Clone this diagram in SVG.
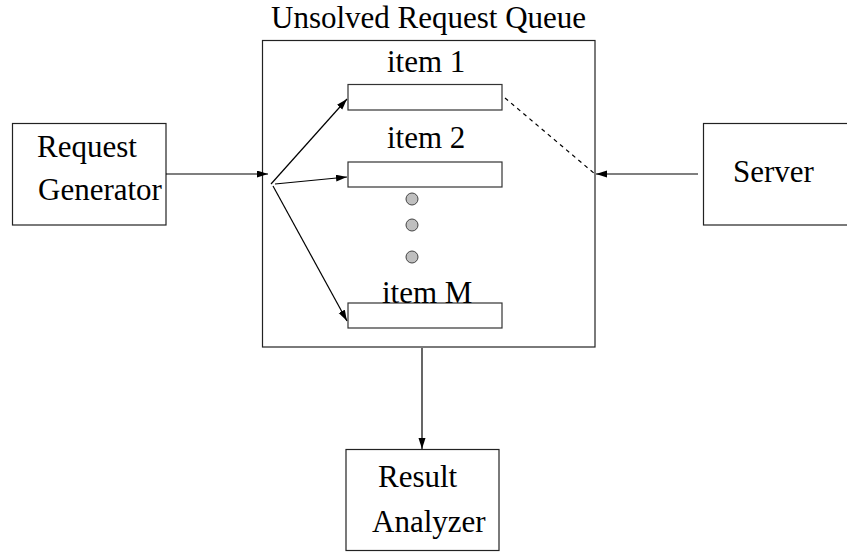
<svg xmlns="http://www.w3.org/2000/svg" width="847" height="552" viewBox="0 0 847 552">
<style>
.box{fill:none;stroke:#222;stroke-width:1.2}
.bar{fill:#fff;stroke:#333;stroke-width:1.2}
.t{font-family:"Liberation Serif","Times New Roman",serif;font-size:31px;fill:#000}
.c{stroke:#000;stroke-width:1.2;fill:none}
.dot{fill:#bfbfbf;stroke:#444;stroke-width:1}
</style>
<defs>
<marker id="ah" markerUnits="userSpaceOnUse" markerWidth="11" markerHeight="8" refX="11" refY="3.5" orient="auto">
<path d="M0,0 L11,3.5 L0,7 z" fill="#000"/>
</marker>
</defs>
<rect width="847" height="552" fill="#fff"/>
<g id="queue">
<rect class="box" x="262.5" y="40.5" width="332.5" height="306.5"/>
<text class="t" x="271" y="28">Unsolved Request Queue</text>
</g>
<g id="item1">
<rect class="bar" x="348" y="84.5" width="154" height="25.5"/>
<text class="t" x="387" y="72">item 1</text>
</g>
<g id="item2">
<rect class="bar" x="348" y="162" width="154" height="25"/>
<text class="t" x="387" y="148">item 2</text>
</g>
<g id="dots">
<circle class="dot" cx="412" cy="199" r="6"/>
<circle class="dot" cx="412" cy="225" r="6"/>
<circle class="dot" cx="412" cy="257" r="6"/>
</g>
<g id="itemM">
<rect class="bar" x="348" y="303" width="154" height="25"/>
<text class="t" x="382" y="303">item M</text>
</g>
<g id="generator">
<rect class="box" x="12.5" y="123.5" width="153.5" height="101.5"/>
<text class="t" x="37" y="157">Request</text>
<text class="t" x="38" y="200">Generator</text>
</g>
<g id="server">
<rect class="box" x="703.5" y="123.5" width="145" height="101.5"/>
<text class="t" x="733" y="182">Server</text>
</g>
<g id="analyzer">
<rect class="box" x="346" y="449.5" width="153" height="101"/>
<text class="t" x="378" y="487">Result</text>
<text class="t" x="372" y="532">Analyzer</text>
</g>
<g id="connectors">
<line class="c" x1="166" y1="174" x2="268" y2="174" marker-end="url(#ah)"/>
<line class="c" x1="698" y1="174" x2="596" y2="174" marker-end="url(#ah)"/>
<line class="c" x1="271" y1="184" x2="347" y2="99" marker-end="url(#ah)"/>
<line class="c" x1="275" y1="184" x2="347" y2="177" marker-end="url(#ah)"/>
<line class="c" x1="273" y1="186" x2="347" y2="321" marker-end="url(#ah)"/>
<line class="c" x1="505" y1="98" x2="595" y2="174" stroke-dasharray="4 4"/>
<line class="c" x1="422" y1="348" x2="422" y2="449" marker-end="url(#ah)"/>
</g>
</svg>
